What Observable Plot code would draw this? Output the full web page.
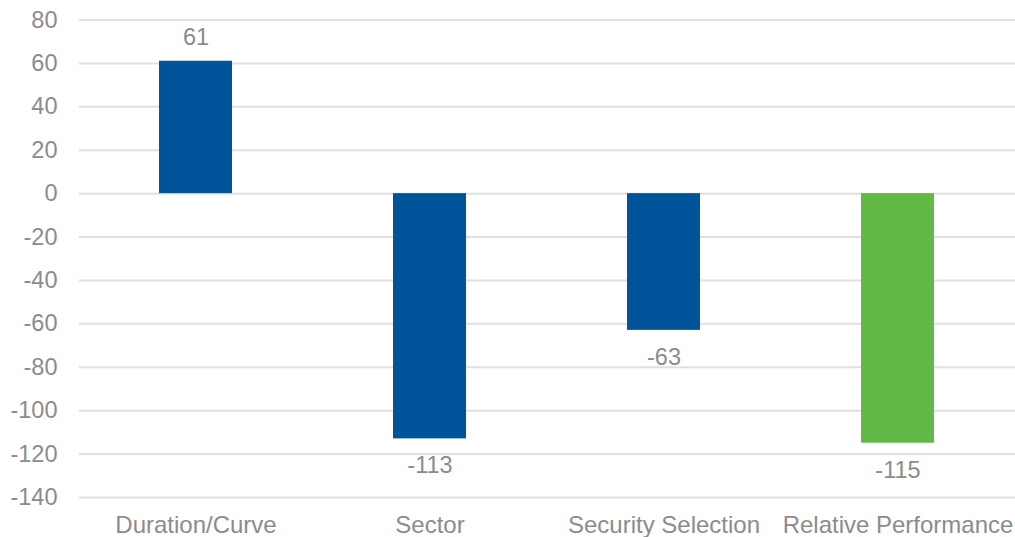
<!DOCTYPE html>
<html>
<head>
<meta charset="utf-8">
<script src="https://cdn.jsdelivr.net/npm/d3@7"></script>
<script src="https://cdn.jsdelivr.net/npm/@observablehq/plot@0.6"></script>
<style>
  html, body { margin: 0; padding: 0; background: #fff; }
  #chart svg { display: block; }
</style>
</head>
<body>
<div id="chart"></div>
<script>
// Attribution components (basis points)
const categories = ["Duration/Curve", "Sector", "Security Selection", "Relative Performance"];
const values = [61, -113, -63, -115];
const barColors = ["#00559a", "#00559a", "#00559a", "#62b946"];
const yTicks = [80, 60, 40, 20, 0, -20, -40, -60, -80, -100, -120, -140];

const rows = categories.map((c, i) => ({ category: c, value: values[i], color: barColors[i] }));
const positive = rows.filter(d => d.value >= 0);
const negative = rows.filter(d => d.value < 0);

const textColor = "#8c8c8c";
const font = "'Liberation Sans', Arial, sans-serif";

const chart = Plot.plot({
  width: 1015,
  height: 537,
  marginLeft: 79,
  marginRight: 0,
  marginTop: 19.5,
  marginBottom: 40,
  style: { fontFamily: font, fontSize: "23.5px", color: textColor, background: "#fff" },
  x: { domain: categories, paddingInner: 0.686, paddingOuter: 0.343, align: 0.5, label: null },
  y: { domain: [-140, 80], label: null },
  marks: [
    Plot.ruleY(yTicks, { stroke: "#e0e0e0", strokeWidth: 2 }),
    Plot.axisY({ ticks: yTicks, tickSize: 0, tickPadding: 22, tickFormat: d => String(d), fill: textColor, fontSize: 23.5 }),
    Plot.axisX({ tickSize: 0, tickPadding: 18, fill: textColor, fontSize: 24 }),
    Plot.barY(rows, { x: "category", y: "value", fill: "color" }),
    Plot.text(positive, {
      x: "category", y: "value", text: d => String(d.value),
      dy: -24, lineAnchor: "middle", fill: textColor, fontSize: 23.5
    }),
    Plot.text(negative, {
      x: "category", y: "value", text: d => String(d.value),
      dy: 27, lineAnchor: "middle", fill: textColor, fontSize: 23.5
    })
  ]
});

document.getElementById("chart").appendChild(chart);
</script>
</body>
</html>
